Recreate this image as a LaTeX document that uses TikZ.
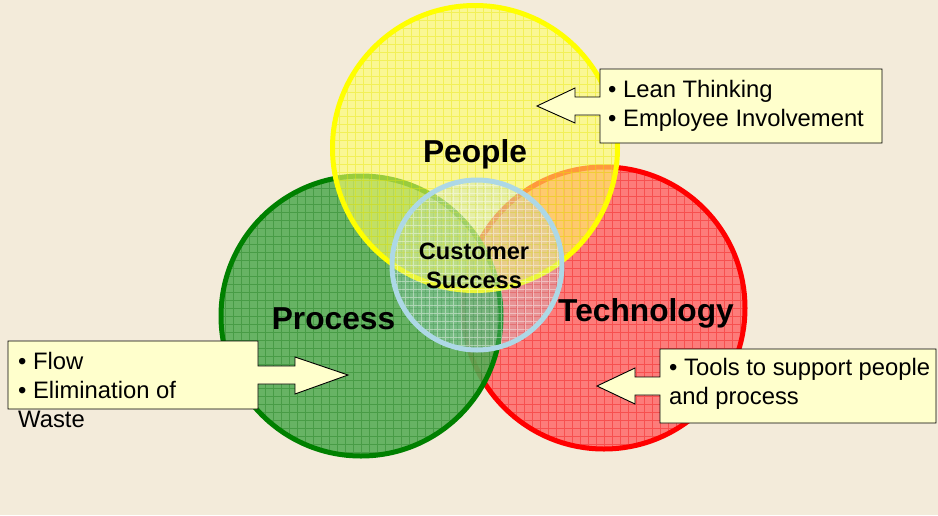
\documentclass[tikz,border=0pt]{standalone}
\usepackage{fontspec}
\setmainfont{Liberation Sans}
\definecolor{bgc}{HTML}{F3EBDA}
\definecolor{boxc}{HTML}{FFFFCC}
\definecolor{yelF}{HTML}{FFFF66}
\definecolor{yelD}{HTML}{FFFF00}
\definecolor{yelG}{HTML}{E6E600}
\definecolor{grnF}{HTML}{58AD58}
\definecolor{grnD}{HTML}{008000}
\definecolor{grnG}{HTML}{1A7A1A}
\definecolor{redF}{HTML}{FF7070}
\definecolor{redD}{HTML}{FF0000}
\definecolor{redG}{HTML}{F01010}
\definecolor{bluD}{HTML}{ADD8E6}
\begin{document}
\begin{tikzpicture}[x=1pt,y=-1pt,
  ring/.style={circle, inner sep=0pt, line width=5pt,
    path picture={\draw[#1, opacity=0.4, line width=0.6pt, step=8pt]
      ([xshift=-1pt,yshift=-1pt]path picture bounding box.south west) grid (path picture bounding box.north east);}},
  callout/.style={fill=boxc, draw=black, line width=0.9pt, line join=miter},
  bodytext/.style={inner sep=0pt, anchor=base west, font=\fontsize{23.8}{28}\selectfont},
  headtext/.style={inner sep=0pt, anchor=base, font=\bfseries\fontsize{31.7}{34}\selectfont},
  cstext/.style={inner sep=0pt, anchor=base, font=\bfseries\fontsize{23.6}{28}\selectfont}]
\fill[bgc] (0,0) rectangle (938,515);
\useasboundingbox (0,0) rectangle (938,515);
% circles
\node[ring=redG, minimum size=282pt, draw=redD, fill=redF, fill opacity=0.9] (tech) at (604,308) {};
\node[ring=grnG, minimum size=280pt, draw=grnD, fill=grnF, fill opacity=0.9] (proc) at (361,316) {};
\node[ring=yelG, minimum size=285pt, draw=yelD, fill=yelF, fill opacity=0.6] (peop) at (475,148) {};
\node[ring=white, minimum size=170pt, draw=bluD, fill=bluD, fill opacity=0.25] (cust) at (477,265) {};
% labels
\node[headtext] (lpeople) at (475,162) {People};
\node[headtext] (lproc) at (333.5,329) {Process};
\node[headtext] (ltech) at (646,321) {Technology};
\node[cstext] (lc1) at (474,259) {Customer};
\node[cstext] (lc2) at (474,288) {Success};
% top callout
\draw[callout] (600,69) -- (882,69) -- (882,143) -- (600,143) -- (600,115) -- (575,115)
  -- (575,123) -- (537,106) -- (575,88) -- (575,97) -- (600,97) -- cycle;
\node[bodytext] (t1) at (608,97) {• Lean Thinking};
\node[bodytext] (t2) at (608,126) {• Employee Involvement};
% left callout
\draw[callout] (8,341) -- (258,341) -- (258,366) -- (295,366) -- (295,357) -- (348,375)
  -- (295,394) -- (295,384) -- (258,384) -- (258,409) -- (8,409) -- cycle;
\node[bodytext] (f1) at (18,369) {• Flow};
\node[bodytext] (f2) at (18,398) {• Elimination of};
\node[bodytext] (f3) at (18,427) {Waste};
% right callout
\draw[callout] (660,349) -- (936,349) -- (936,423) -- (660,423) -- (660,395) -- (635,395)
  -- (635,404) -- (597,386) -- (635,368) -- (635,377) -- (660,377) -- cycle;
\node[bodytext] (r1) at (669,375) {• Tools to support people};
\node[bodytext] (r2) at (669,404) {and process};
\end{tikzpicture}
\end{document}
